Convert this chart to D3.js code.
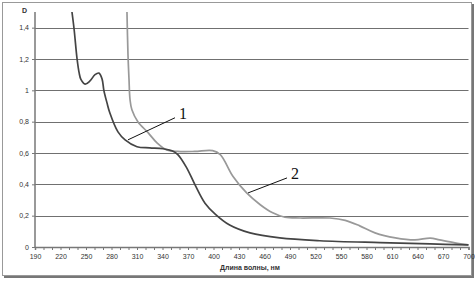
<!DOCTYPE html>
<html>
<head>
<meta charset="utf-8">
<script src="https://cdn.jsdelivr.net/npm/d3@7"></script>
<style>
  body { margin: 0; background: #fff; }
  svg { display: block; font-family: "Liberation Sans", Arial, sans-serif; }
</style>
</head>
<body>
<div class="chart"></div>
<script>
// wavelength (nm) / optical density
const curve1Nm = [233.5, 236, 239.5, 242, 244, 249, 254.7, 260.6, 265.3, 269, 271, 274.7, 278, 287.6, 296, 310, 325, 340.6, 351, 358, 368, 378, 390, 402, 419, 443, 478, 525, 596, 655, 700]
const curve1D  = [1.5, 1.39, 1.2, 1.11, 1.07, 1.04, 1.06, 1.10, 1.11, 1.07, 1.0, 0.92, 0.857, 0.735, 0.684, 0.64, 0.633, 0.627, 0.614, 0.59, 0.51, 0.40, 0.28, 0.21, 0.14, 0.09, 0.058, 0.04, 0.028, 0.02, 0.013]

const curve2Nm = [298.2, 299.4, 300.6, 301.8, 304, 311, 323, 333.5, 345, 358, 378, 399, 408, 423, 439, 455, 469, 484, 502, 537, 555, 572, 590, 614, 637, 655, 666, 684, 700]
const curve2D  = [1.5, 1.228, 1.07, 0.94, 0.876, 0.8, 0.73, 0.665, 0.62, 0.61, 0.61, 0.615, 0.59, 0.45, 0.345, 0.27, 0.22, 0.19, 0.185, 0.185, 0.17, 0.135, 0.09, 0.058, 0.045, 0.057, 0.045, 0.026, 0.013]

const xTickLabels = [190, 220, 250, 280, 310, 340, 370, 400, 430, 460, 490, 520, 550, 580, 610, 640, 670, 700]
const yTickValues = [0, 0.2, 0.4, 0.6, 0.8, 1, 1.2, 1.4]

// curve labels: leader from a point on the curve (nm, D) to the label (nm, D)
const labelNames = ['1', '2']
const labelFrom = [[299.4, 0.684], [440.6, 0.345]]
const labelTo = [[354.7, 0.825], [486.5, 0.441]]

const width = 475, height = 282
const svg = d3.select('.chart')
    .append('svg')
        .attr('width', width)
        .attr('height', height)

// frame with shadow
svg.append('rect')
    .attr('x', 4).attr('y', 4).attr('width', 470).attr('height', 274)
    .attr('fill', '#777')
svg.append('rect')
    .attr('x', 2.5).attr('y', 2.5).attr('width', 469).attr('height', 273)
    .attr('fill', '#fff')
    .attr('stroke', '#999')

const x = d3.scaleLinear().domain([190, 700]).range([35, 468.5])
const y = d3.scaleLinear().domain([0, 1.5]).range([247, 12])

// gridlines
svg.append('g')
    .selectAll('line')
    .data(yTickValues.filter(d => d > 0))
    .enter()
    .append('line')
        .attr('x1', x(190)).attr('x2', x(700))
        .attr('y1', d => Math.round(y(d)) + 0.5)
        .attr('y2', d => Math.round(y(d)) + 0.5)
        .style('stroke', '#707070')
        .style('stroke-width', 1.2)

// y axis
const yAxis = svg.append('g')
    .attr('transform', `translate(${x(190)}, 0)`)
    .call(d3.axisLeft(y)
        .tickValues(yTickValues)
        .tickSize(3)
        .tickFormat(d => String(d).replace('.', ',')))
yAxis.select('.domain').attr('d', `M0,${y(1.5)}V${y(0)}`).style('stroke', '#777').style('stroke-width', 1.5)
yAxis.selectAll('line').style('stroke', '#777')
yAxis.selectAll('text').style('font-size', '7px').style('fill', '#333')

svg.append('text')
    .attr('x', 27).attr('y', 13)
    .attr('text-anchor', 'end')
    .style('font-size', '7px').style('font-weight', 'bold').style('fill', '#333')
    .text('D')

// x axis: minor ticks every 10 nm, labels every 30 nm
const xAxis = svg.append('g')
    .attr('transform', `translate(0, ${y(0)})`)
    .call(d3.axisBottom(x)
        .tickValues(d3.range(190, 701, 10))
        .tickSize(3)
        .tickFormat(d => xTickLabels.includes(d) ? d : ''))
xAxis.select('.domain').style('stroke', '#777').style('stroke-width', 1.5)
xAxis.selectAll('line').style('stroke', '#777')
xAxis.selectAll('text').style('font-size', '7px').style('fill', '#333').attr('dy', '0.9em')

svg.append('text')
    .attr('x', 250).attr('y', 270)
    .attr('text-anchor', 'middle')
    .style('font-size', '7px').style('font-weight', 'bold').style('fill', '#333')
    .text('Длина волны, нм')

// curves
const line = d3.line()
    .x(d => x(d[0]))
    .y(d => y(d[1]))
    .curve(d3.curveCatmullRom.alpha(0.5))

svg.append('path')
    .attr('d', line(d3.zip(curve2Nm, curve2D)))
    .style('fill', 'none')
    .style('stroke', '#999')
    .style('stroke-width', 1.7)

svg.append('path')
    .attr('d', line(d3.zip(curve1Nm, curve1D)))
    .style('fill', 'none')
    .style('stroke', '#444')
    .style('stroke-width', 1.7)

// curve labels
labelNames.forEach((name, i) => {
    svg.append('line')
        .attr('x1', x(labelFrom[i][0])).attr('y1', y(labelFrom[i][1]))
        .attr('x2', x(labelTo[i][0])).attr('y2', y(labelTo[i][1]))
        .style('stroke', '#111')
        .style('stroke-width', 1)
    svg.append('text')
        .attr('x', x(labelTo[i][0]) + 4)
        .attr('y', y(labelTo[i][1]) + 1)
        .style('font-family', '"Liberation Serif", "Times New Roman", serif')
        .style('font-size', '16px')
        .style('fill', '#111')
        .text(name)
})
</script>
</body>
</html>
